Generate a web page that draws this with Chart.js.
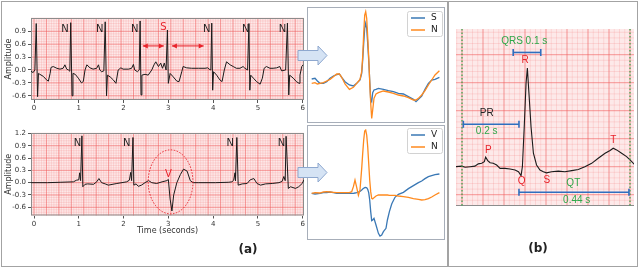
<!DOCTYPE html>
<html lang="en">
<head>
<meta charset="UTF-8">
<title>ECG beat types</title>
<script src="https://cdn.jsdelivr.net/npm/chart.js@4.4.1/dist/chart.umd.min.js"></script>
<style>
  body { margin: 0; width: 640px; height: 269px; position: relative; background: #fff; overflow: hidden; font-family: "DejaVu Sans", sans-serif; }
  canvas, .frame, .tag, svg { position: absolute; }
  .frame { box-sizing: border-box; border: 1.5px solid #a7aeb9; }
  .outer { left: 1px; top: 1px; width: 637px; height: 266px; border-color: #a3a3a3; }
  .divider { position: absolute; left: 447px; top: 1px; width: 1.5px; height: 266px; background: #a3a3a3; }
  .tag { font-weight: bold; font-size: 12px; color: #222; transform: translate(-50%, -50%); }
</style>
</head>
<body>
<div class="frame outer"></div>
<div class="divider"></div>
<div class="frame" style="left:307px;top:7px;width:138px;height:116px"></div>
<div class="frame" style="left:307px;top:124.5px;width:138px;height:115px"></div>

<canvas id="topStrip" width="310" height="104" style="left:0;top:10px"></canvas>
<canvas id="bottomStrip" width="310" height="111" style="left:0;top:125px"></canvas>
<canvas id="beatS" width="135" height="113" style="left:309px;top:9px"></canvas>
<canvas id="beatV" width="135" height="112" style="left:309px;top:126px"></canvas>
<canvas id="waves" width="178" height="177" style="left:456px;top:29px"></canvas>

<svg width="640" height="269" style="left:0;top:0;pointer-events:none">
  <polygon points="298,50.5 318,50.5 318,46 327,55.5 318,65 318,60.5 298,60.5" fill="#d5e3f4" stroke="#8ea8cf" stroke-width="1"/>
  <polygon points="298,167.5 318,167.5 318,163 327,172.5 318,182 318,177.5 298,177.5" fill="#d5e3f4" stroke="#8ea8cf" stroke-width="1"/>
</svg>
<div class="tag" style="left:248px;top:249px">(a)</div>
<div class="tag" style="left:538px;top:248px">(b)</div>

<script>
// ---- (a) top strip: N N N S N N N ----
const topTime = [-0.067, -0.02, 0.02, 0.05, 0.08, 0.10, 0.13, 0.21, 0.28, 0.32, 0.36, 0.38, 0.43, 0.51, 0.58, 0.65, 0.69, 0.73, 0.77, 0.80,
  0.82, 0.85, 0.87, 0.92, 0.99, 1.06, 1.10, 1.14, 1.18, 1.25, 1.32, 1.40, 1.44, 1.47, 1.51, 1.56,
  1.59, 1.62, 1.64, 1.70, 1.77, 1.83, 1.88, 1.94, 1.99, 2.11, 2.18, 2.22, 2.25, 2.31, 2.35,
  2.37, 2.39, 2.41, 2.48, 2.55, 2.63, 2.68, 2.72, 2.78, 2.83, 2.87, 2.91, 2.95,
  2.98, 3.00, 3.04, 3.11, 3.19, 3.24, 3.30, 3.33, 3.41, 3.52, 3.67, 3.82, 3.88, 3.91, 3.95,
  3.97, 3.99, 4.01, 4.08, 4.15, 4.20, 4.25, 4.30, 4.38, 4.45, 4.52, 4.60, 4.67, 4.71, 4.77,
  4.80, 4.82, 4.84, 4.90, 4.97, 5.05, 5.10, 5.14, 5.19, 5.27, 5.34, 5.42, 5.49, 5.53, 5.62,
  5.66, 5.69, 5.71, 5.79, 5.86, 5.92, 5.94, 5.98, 6.01];
const topAmp = [-0.03, -0.06, 0.0, 1.08, -0.62, -0.08, -0.10, -0.15, -0.23, -0.26, -0.08, 0.06, 0.08, 0.04, 0.02, 0.04, 0.12, 0.02, 0.0, -0.03,
  1.10, -0.60, -0.08, -0.10, -0.19, -0.30, -0.27, 0.0, 0.12, 0.05, 0.02, 0.04, 0.12, 0.0, -0.04, -0.02,
  1.12, -0.60, -0.12, -0.16, -0.23, -0.31, 0.0, 0.05, 0.02, 0.02, 0.04, 0.13, 0.0, -0.04, 0.0,
  1.14, -0.58, -0.12, -0.10, -0.12, 0.0, 0.12, 0.19, 0.08, 0.16, 0.04, 0.16, 0.0,
  0.93, -0.31, -0.08, -0.16, -0.26, -0.27, -0.04, 0.08, 0.05, 0.04, 0.04, 0.04, 0.05, 0.02, 0.0,
  1.09, -0.47, -0.04, -0.12, -0.23, -0.27, 0.0, 0.19, 0.12, 0.08, 0.04, 0.04, 0.08, 0.04, 0.0,
  1.08, -0.47, -0.12, -0.19, -0.27, -0.33, -0.19, 0.04, 0.08, 0.04, 0.04, 0.05, 0.08, -0.02, 0.0,
  1.09, -0.58, -0.12, -0.19, -0.27, -0.31, -0.12, 0.08, 0.12];
const topAmpTicks = [-0.6, -0.3, 0, 0.3, 0.6, 0.9];
const topBeatTypes = ['N', 'N', 'N', 'S', 'N', 'N', 'N'];
const topBeatLabelTimes = [0.69, 1.47, 2.25, 2.89, 3.86, 4.73, 5.55];
const rrArrowStarts = [2.43, 3.08];
const rrArrowEnds = [2.90, 3.79];

// ---- (a) bottom strip: N N V N N ----
const bottomTime = [-0.067, 0.3, 0.6, 0.88, 0.95, 1.00, 1.02, 1.04, 1.07, 1.09, 1.14, 1.20, 1.33, 1.40, 1.45, 1.51, 1.59, 1.66, 1.85,
  2.07, 2.13, 2.16, 2.18, 2.21, 2.23, 2.28, 2.33, 2.40, 2.48, 2.56, 2.63, 2.74, 2.86,
  2.97, 3.00, 3.04, 3.08, 3.12, 3.19, 3.27, 3.34, 3.42, 3.49, 3.55, 3.68, 4.05,
  4.35, 4.42, 4.46, 4.49, 4.50, 4.53, 4.56, 4.65, 4.76, 4.83, 4.91, 4.98, 5.06, 5.17, 5.32, 5.47,
  5.54, 5.58, 5.61, 5.63, 5.68, 5.73, 5.84, 5.91, 5.99, 6.03];
const bottomAmp = [0.0, 0.0, 0.01, 0.02, 0.06, 0.07, 0.24, 0.05, 1.14, -0.10, -0.04, -0.03, -0.04, 0.02, 0.10, 0.0, -0.03, -0.06, -0.02,
  0.02, 0.06, 0.25, 0.05, 1.10, -0.06, -0.03, -0.09, -0.06, 0.0, 0.05, 0.0, -0.02, 0.02,
  0.05, 0.08, -0.40, -0.69, -0.30, 0.0, 0.20, 0.33, 0.28, 0.05, 0.0, 0.0, 0.0,
  0.01, 0.02, 0.06, 0.24, 0.05, 1.10, -0.06, -0.03, -0.02, 0.07, 0.10, -0.02, -0.06, -0.03, -0.02, 0.0,
  0.03, 0.15, 0.05, 1.13, -0.14, -0.10, -0.14, -0.10, -0.02, 0.07];
const bottomAmpTicks = [-0.6, -0.3, 0, 0.3, 0.6, 0.9, 1.2];
const bottomBeatTypes = ['N', 'N', 'V', 'N', 'N'];
const bottomBeatLabelTimes = [0.97, 2.07, 3.0, 4.38, 5.53];
const timeTicks = [0, 1, 2, 3, 4, 5, 6];

// ---- (a) averaged beats: S vs N ----
const sPanelIdx = [0, 3.3, 5.7, 8.3, 11.7, 15, 18.3, 21.7, 25, 27.7, 30, 33.3, 37.7, 41.7, 45, 48.3, 50, 51, 52, 53, 54, 55, 56, 57, 58,
  59, 60, 61, 62.3, 64.3, 66.7, 71.7, 76.7, 81.7, 86.7, 91.7, 96.7, 101.7, 104.3, 106.7, 110, 113.3, 116.7, 120, 123.3, 127.7];
const sBeat = [0.13, 0.15, 0.07, 0, 0, 0.05, 0.15, 0.22, 0.26, 0.28, 0.18, 0.05, -0.05, -0.08, 0, 0.10, 0.30, 0.70, 1.20, 1.65, 1.80, 1.65, 1.20, 0.70, 0.10,
  -0.50, -0.55, -0.28, -0.20, -0.18, -0.15, -0.18, -0.22, -0.25, -0.30, -0.32, -0.40, -0.48, -0.55, -0.48, -0.38, -0.18, 0, 0.10, 0.12, 0.18];
const sPanelNBeat = [0, 0.02, -0.02, 0, 0.02, 0.07, 0.12, 0.20, 0.28, 0.28, 0.18, -0.02, -0.18, -0.12, 0, 0.12, 0.35, 0.80, 1.50, 2.05, 2.15, 1.95, 1.40, 0.80, 0.05,
  -0.60, -1.05, -0.80, -0.45, -0.32, -0.28, -0.23, -0.26, -0.30, -0.35, -0.38, -0.43, -0.50, -0.50, -0.45, -0.35, -0.22, -0.05, 0.10, 0.25, 0.38];

// ---- (a) averaged beats: V vs N ----
const vPanelIdx = [0, 3.3, 8.3, 11.7, 15, 18.3, 21.7, 25, 27.7, 30, 33.3, 37.7, 40, 41.7, 43.3, 45, 46.7, 48.3, 50, 51, 52, 53, 54, 55, 56, 57, 58,
  59, 60, 61, 62.3, 64.3, 66.7, 68.3, 70, 71.7, 74.3, 75.7, 77.7, 80, 83.3, 86.7, 91.7, 96.7, 101.7, 106.7, 110, 113.3, 116.7, 120, 123.3, 127.7];
const vBeat = [0, -0.02, 0, 0.02, 0.02, 0.04, 0.02, 0, 0, 0, 0, 0, 0, 0, 0.01, 0.02, 0.04, 0.06, 0.10, 0.13, 0.15, 0.17, 0.18, 0.17, 0.12, 0.02, -0.20,
  -0.55, -0.82, -0.80, -0.75, -0.95, -1.20, -1.28, -1.25, -1.15, -1.05, -0.80, -0.55, -0.32, -0.12, -0.03, 0.03, 0.14, 0.23, 0.32, 0.37, 0.44, 0.50, 0.53, 0.56, 0.58];
const vPanelNBeat = [0, 0.02, 0.01, 0.04, 0.05, 0.04, 0.03, 0.02, 0.02, 0.02, 0.02, 0.02, 0.05, 0.20, 0.40, 0.18, -0.06, 0.10, 0.75, 1.20, 1.60, 1.87, 1.90, 1.75, 1.40, 0.90, 0.40,
  0.05, -0.15, -0.17, -0.13, -0.08, -0.05, -0.05, -0.05, -0.05, -0.05, -0.05, -0.06, -0.06, -0.06, -0.08, -0.10, -0.12, -0.16, -0.18, -0.20, -0.19, -0.16, -0.11, -0.05, 0.02];

// ---- (b) single beat with intervals ----
const waveTime = [-0.024, -0.001, 0.012, 0.031, 0.049, 0.062, 0.075, 0.085, 0.090, 0.098, 0.107, 0.119, 0.132, 0.145, 0.164, 0.183, 0.202, 0.215, 0.225, 0.230,
  0.237, 0.244, 0.249, 0.255, 0.263, 0.272, 0.284, 0.297, 0.310, 0.322, 0.341, 0.367, 0.392, 0.418, 0.443, 0.468, 0.494, 0.519, 0.545, 0.564,
  0.576, 0.589, 0.608, 0.627, 0.640, 0.657];
const waveAmp = [0, 0.01, -0.01, 0, 0.01, 0.05, 0.06, 0.09, 0.17, 0.11, 0.07, 0.06, 0.03, -0.03, -0.03, -0.04, -0.06, -0.09, -0.16, 0,
  0.71, 1.49, 1.76, 1.31, 0.71, 0.24, 0.03, -0.06, -0.09, -0.11, -0.09, -0.08, -0.09, -0.07, -0.05, 0, 0.06, 0.15, 0.24, 0.29,
  0.33, 0.30, 0.24, 0.18, 0.12, 0.04];
const waveNames = ['P', 'Q', 'R', 'S', 'T'];
const waveNameTimes = [0.10, 0.227, 0.24, 0.323, 0.576];
const waveNameAmps = [0.286, -0.268, 1.9, -0.25, 0.464];
const intervalNames = ['PR', 'QRS', 'QT'];
const intervalStarts = [0.005, 0.195, 0.217];
const intervalEnds = [0.217, 0.300, 0.636];
const intervalSeconds = ['0.2 s', '0.1 s', '0.44 s'];

const RED = '#e8232b', GREEN = '#2ea84a', BLUE = '#2f6fbf';
const TAB_BLUE = '#3a78b5', TAB_ORANGE = '#ff8a1e';

Chart.defaults.font.family = '"DejaVu Sans", sans-serif';
Chart.defaults.color = '#333';

const pts = (xs, ys) => xs.map((x, i) => ({x: x, y: ys[i]}));

// pink ECG paper behind the trace
const ecgGrid = {
  id: 'ecgGrid',
  beforeDatasetsDraw(chart, args, o) {
    const {ctx, chartArea: a, scales: {x, y}} = chart;
    const lines = (scale, step, vertical) => {
      const i0 = Math.ceil(scale.min / step - 1e-6), i1 = Math.floor(scale.max / step + 1e-6);
      ctx.beginPath();
      for (let i = i0; i <= i1; i++) {
        const p = scale.getPixelForValue(i * step);
        if (vertical) { ctx.moveTo(p, a.top); ctx.lineTo(p, a.bottom); }
        else { ctx.moveTo(a.left, p); ctx.lineTo(a.right, p); }
      }
      ctx.stroke();
    };
    ctx.save();
    ctx.fillStyle = '#fde9e9';
    ctx.fillRect(a.left, a.top, a.width, a.height);
    ctx.strokeStyle = 'rgba(243,120,120,0.33)';
    ctx.lineWidth = 0.6;
    lines(x, o.xMinor, true);
    lines(y, o.yMinor, false);
    ctx.strokeStyle = 'rgba(238,88,88,0.55)';
    ctx.lineWidth = 0.9;
    lines(x, o.xMajor, true);
    lines(y, o.yMajor, false);
    ctx.strokeStyle = '#8c8c8c';
    ctx.lineWidth = 1;
    if (o.frame === 'box') {
      ctx.strokeRect(a.left + 0.5, a.top + 0.5, a.width - 1, a.height - 1);
    } else {
      ctx.beginPath(); ctx.moveTo(a.left, a.bottom - 0.5); ctx.lineTo(a.right, a.bottom - 0.5); ctx.stroke();
    }
    ctx.restore();
  }
};

// labels, arrows, brackets, ellipses placed in data coordinates
const marks = {
  id: 'marks',
  afterDatasetsDraw(chart, args, o) {
    const {ctx, scales: {x, y}} = chart;
    ctx.save();
    (o.vlines || []).forEach(v => {
      const px = x.getPixelForValue(v.x);
      ctx.setLineDash([1.5, 2]);
      ctx.strokeStyle = v.color;
      ctx.lineWidth = 1.2;
      ctx.beginPath(); ctx.moveTo(px, chart.chartArea.top); ctx.lineTo(px, chart.chartArea.bottom); ctx.stroke();
    });
    (o.ellipses || []).forEach(e => {
      const cx = x.getPixelForValue(e.x), cy = y.getPixelForValue(e.y);
      const rx = Math.abs(x.getPixelForValue(e.x + e.rx) - cx), ry = Math.abs(y.getPixelForValue(e.y + e.ry) - cy);
      ctx.setLineDash([1.5, 1.5]);
      ctx.strokeStyle = e.color;
      ctx.lineWidth = 1;
      ctx.beginPath(); ctx.ellipse(cx, cy, rx, ry, 0, 0, Math.PI * 2); ctx.stroke();
    });
    ctx.setLineDash([]);
    (o.spans || []).forEach(s => {
      const x1 = x.getPixelForValue(s.x1), x2 = x.getPixelForValue(s.x2), py = y.getPixelForValue(s.y);
      ctx.strokeStyle = s.color;
      ctx.fillStyle = s.color;
      ctx.lineWidth = s.kind === 'bar' ? 1.6 : 1;
      ctx.beginPath(); ctx.moveTo(x1, py); ctx.lineTo(x2, py); ctx.stroke();
      if (s.kind === 'bar') {
        ctx.beginPath();
        ctx.moveTo(x1, py - 3.5); ctx.lineTo(x1, py + 3.5);
        ctx.moveTo(x2, py - 3.5); ctx.lineTo(x2, py + 3.5);
        ctx.stroke();
      } else {
        ctx.beginPath();
        ctx.moveTo(x1, py); ctx.lineTo(x1 + 5, py - 2.5); ctx.lineTo(x1 + 5, py + 2.5); ctx.closePath();
        ctx.moveTo(x2, py); ctx.lineTo(x2 - 5, py - 2.5); ctx.lineTo(x2 - 5, py + 2.5); ctx.closePath();
        ctx.fill();
      }
    });
    (o.texts || []).forEach(t => {
      ctx.font = t.font;
      ctx.fillStyle = t.color;
      ctx.textAlign = 'center';
      ctx.textBaseline = 'middle';
      ctx.fillText(t.text, x.getPixelForValue(t.x), y.getPixelForValue(t.y));
    });
    ctx.restore();
  }
};

// matplotlib-like legend box in the upper right corner
const boxLegend = {
  id: 'boxLegend',
  afterDraw(chart) {
    const {ctx, chartArea: a} = chart;
    const bx = a.right - 37, by = a.top + 2;
    ctx.save();
    ctx.fillStyle = 'rgba(255,255,255,0.9)';
    ctx.strokeStyle = '#d2d2d2';
    ctx.lineWidth = 1;
    ctx.beginPath(); ctx.roundRect(bx + 0.5, by + 0.5, 35, 25, 2); ctx.fill(); ctx.stroke();
    chart.data.datasets.forEach((ds, i) => {
      const ly = by + 7 + i * 12;
      ctx.strokeStyle = ds.borderColor;
      ctx.lineWidth = 1.5;
      ctx.beginPath(); ctx.moveTo(bx + 4, ly); ctx.lineTo(bx + 18, ly); ctx.stroke();
      ctx.fillStyle = '#222';
      ctx.font = '9px "DejaVu Sans"';
      ctx.textAlign = 'left';
      ctx.textBaseline = 'middle';
      ctx.fillText(ds.label, bx + 24, ly);
    });
    ctx.restore();
  }
};

const tickFmt = v => (Math.abs(v) < 1e-9 ? 0 : v).toFixed(1);

function makeStrip(id, time, amp, yMin, yMax, yTicks, xHeight, xTitle, markOpts) {
  return new Chart(document.getElementById(id), {
    type: 'line',
    data: {datasets: [{data: pts(time, amp), borderColor: '#1b1b1b', borderWidth: 1, pointRadius: 0, tension: 0}]},
    options: {
      responsive: false, animation: false, devicePixelRatio: 1,
      layout: {padding: {top: 8, right: 6, bottom: 0, left: 0}},
      plugins: {legend: {display: false}, tooltip: {enabled: false},
        ecgGrid: {xMajor: 100 / 360, xMinor: 20 / 360, yMajor: 0.3, yMinor: 0.06, frame: 'box'},
        marks: markOpts},
      scales: {
        x: {type: 'linear', min: -0.067, max: 6.03,
          afterBuildTicks: s => { s.ticks = timeTicks.map(v => ({value: v})); },
          afterFit: s => { s.height = xHeight; },
          grid: {drawOnChartArea: false, tickLength: 3, color: '#555'}, border: {display: false},
          ticks: {font: {size: 7}, color: '#333', padding: 1, maxRotation: 0, autoSkip: false, callback: v => String(v)},
          title: {display: !!xTitle, text: xTitle, font: {size: 8}, color: '#333', padding: {top: 0, bottom: 0}}},
        y: {min: yMin, max: yMax,
          afterBuildTicks: s => { s.ticks = yTicks.map(v => ({value: v})); },
          afterFit: s => { s.width = 31; },
          grid: {drawOnChartArea: false, tickLength: 3, color: '#555'}, border: {display: false},
          ticks: {font: {size: 7}, color: '#333', padding: 2, autoSkip: false, callback: tickFmt},
          title: {display: true, text: 'Amplitude', font: {size: 8}, color: '#333'}}
      }
    },
    plugins: [ecgGrid, marks]
  });
}

const beatFont = '10px "DejaVu Sans"';

makeStrip('topStrip', topTime, topAmp, -0.698, 1.209, topAmpTicks, 14, '', {
  texts: topBeatTypes.map((b, i) => ({text: b, x: topBeatLabelTimes[i], y: b === 'N' ? 0.94 : 0.98, color: b === 'N' ? '#222' : RED, font: beatFont})),
  spans: rrArrowStarts.map((s, i) => ({x1: s, x2: rrArrowEnds[i], y: 0.56, color: RED, kind: 'arrow'}))
});

makeStrip('bottomStrip', bottomTime, bottomAmp, -0.80, 1.21, bottomAmpTicks, 20.5, 'Time (seconds)', {
  texts: bottomBeatTypes.map((b, i) => ({text: b, x: bottomBeatLabelTimes[i], y: b === 'N' ? 0.96 : 0.19, color: b === 'N' ? '#222' : RED, font: beatFont})),
  ellipses: [{x: 3.05, y: 0.02, rx: 0.50, ry: 0.78, color: RED}]
});

function makeBeatPanel(id, idx, first, firstLabel, normal, yMin, yMax) {
  return new Chart(document.getElementById(id), {
    type: 'line',
    data: {datasets: [
      {label: firstLabel, data: pts(idx, first), borderColor: TAB_BLUE, borderWidth: 1.3, pointRadius: 0, tension: 0, order: 2},
      {label: 'N', data: pts(idx, normal), borderColor: TAB_ORANGE, borderWidth: 1.3, pointRadius: 0, tension: 0, order: 1}
    ]},
    options: {
      responsive: false, animation: false, devicePixelRatio: 1,
      layout: {padding: 0},
      plugins: {legend: {display: false}, tooltip: {enabled: false}},
      scales: {
        x: {type: 'linear', min: -2.7, max: 132.3, display: false},
        y: {min: yMin, max: yMax, display: false}
      }
    },
    plugins: [boxLegend]
  });
}

makeBeatPanel('beatS', sPanelIdx, sBeat, 'S', sPanelNBeat, -1.16, 2.23);
makeBeatPanel('beatV', vPanelIdx, vBeat, 'V', vPanelNBeat, -1.34, 2.02);

const waveFont = '10px "Liberation Sans"';
const intervalTextAt = {PR: [0.094, 0.95, 0.094, 0.625], QRS: [0.237, 2.24], QT: [0.424, -0.296, 0.437, -0.595]};
const intervalBarAmps = [0.757, 2.04, -0.457];
const waveTexts = waveNames.map((n, i) => ({text: n, x: waveNameTimes[i], y: waveNameAmps[i], color: RED, font: waveFont}));
waveTexts.push(
  {text: 'PR', x: intervalTextAt.PR[0], y: intervalTextAt.PR[1], color: '#222', font: waveFont},
  {text: intervalSeconds[0], x: intervalTextAt.PR[2], y: intervalTextAt.PR[3], color: GREEN, font: waveFont},
  {text: 'QRS ' + intervalSeconds[1], x: intervalTextAt.QRS[0], y: intervalTextAt.QRS[1], color: GREEN, font: waveFont},
  {text: 'QT', x: intervalTextAt.QT[0], y: intervalTextAt.QT[1], color: GREEN, font: waveFont},
  {text: intervalSeconds[2], x: intervalTextAt.QT[2], y: intervalTextAt.QT[3], color: GREEN, font: waveFont}
);

new Chart(document.getElementById('waves'), {
  type: 'line',
  data: {datasets: [{data: pts(waveTime, waveAmp), borderColor: '#1b1b1b', borderWidth: 1.1, pointRadius: 0, tension: 0}]},
  options: {
    responsive: false, animation: false, devicePixelRatio: 1,
    layout: {padding: 0},
    plugins: {legend: {display: false}, tooltip: {enabled: false},
      ecgGrid: {xMajor: 0.08, xMinor: 0.02, yMajor: 0.5, yMinor: 0.1, frame: 'bottom'},
      marks: {
        vlines: [{x: intervalStarts[0] - 0.005, color: GREEN}, {x: intervalEnds[2] + 0.004, color: GREEN}],
        spans: intervalNames.map((n, i) => ({x1: intervalStarts[i], x2: intervalEnds[i], y: intervalBarAmps[i], color: BLUE, kind: 'bar'})),
        texts: waveTexts
      }},
    scales: {
      x: {type: 'linear', min: -0.0229, max: 0.6552, display: false},
      y: {min: -0.702, max: 2.459, display: false}
    }
  },
  plugins: [ecgGrid, marks]
});
</script>
</body>
</html>
